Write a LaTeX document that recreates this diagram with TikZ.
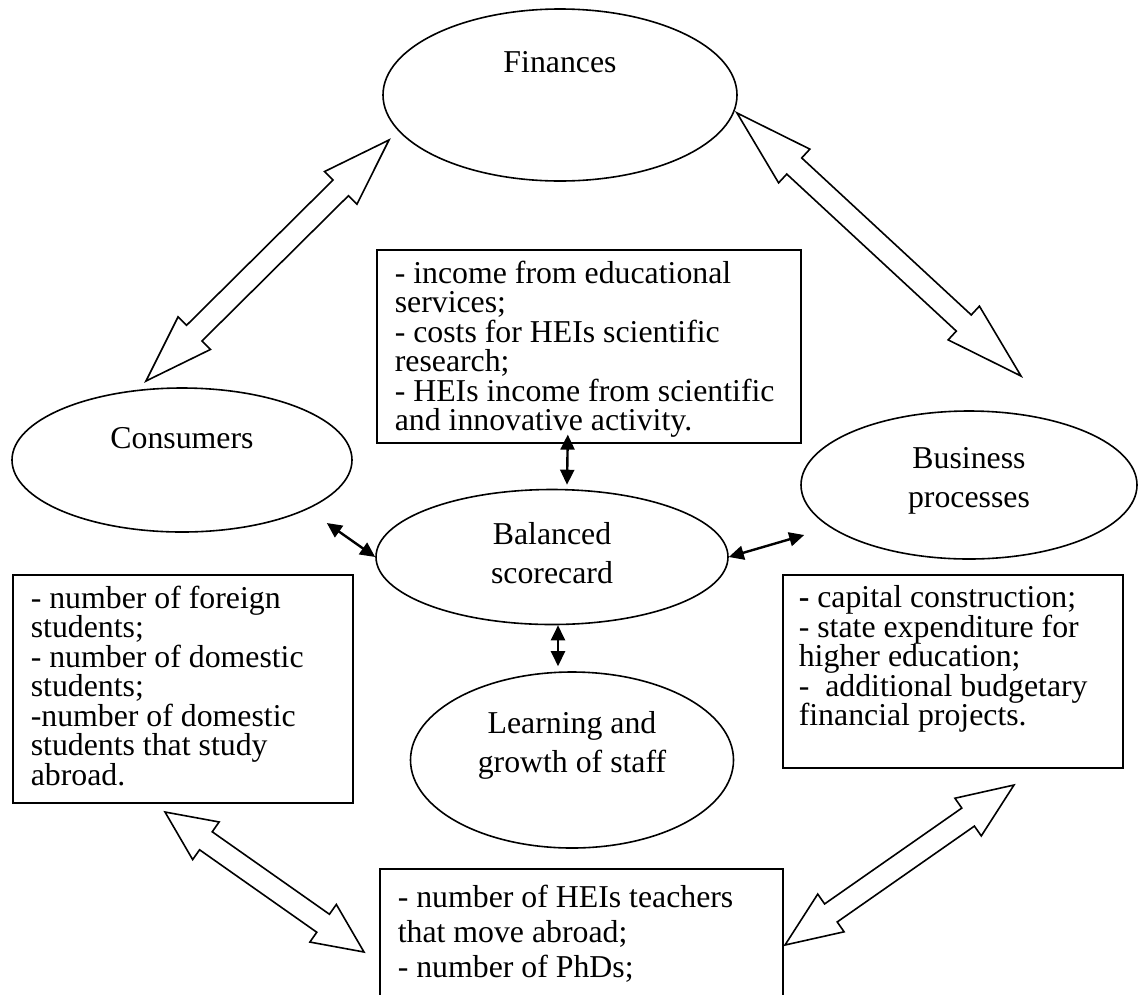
\documentclass[tikz,border=0pt]{standalone}
\usepackage{fontspec}
\setmainfont{Liberation Serif}
\usetikzlibrary{arrows.meta, calc, shapes.geometric}
\setlength{\lineskiplimit}{-20pt}

% hollow double arrow between two points, #1 = head length
\newcommand{\twinArrow}[3][62pt]{%
    \coordinate (tw1) at ($(#2)!#1!(#3)$);
    \coordinate (tw2) at ($(#3)!#1!(#2)$);
    \draw[twin] (#2) -- ($(tw1)!23pt!90:(#3)$) -- ($(tw1)!11pt!90:(#3)$)
        -- ($(tw2)!11pt!-90:(#2)$) -- ($(tw2)!23pt!-90:(#2)$) -- (#3)
        -- ($(tw2)!23pt!90:(#2)$) -- ($(tw2)!11pt!90:(#2)$)
        -- ($(tw1)!11pt!-90:(#3)$) -- ($(tw1)!23pt!-90:(#3)$) -- cycle;
}
% top aligned text block: height, width, text
\newcommand{\boxText}[3]{\parbox[t][#1][t]{#2}{\raggedright #3}}

\begin{document}
\begin{tikzpicture}[x=1pt, y=-1pt,
    oval/.style={draw, ellipse, line width=1.6pt, inner sep=0pt},
    ovaltext/.style={align=center, font=\fontsize{31.8}{39}\selectfont},
    infobox/.style={draw, line width=1.6pt, anchor=north west, inner xsep=18pt, inner ysep=11pt,
        font=\fontsize{31.8}{29.5}\selectfont},
    twin/.style={line width=1.6pt, fill=white, line join=miter},
    dart/.style={{Triangle[length=15pt,width=14pt]}-{Triangle[length=15pt,width=14pt]}, line width=2.4pt}]

    \useasboundingbox (0,0) rectangle (1139,994);
    \clip (0,0) rectangle (1139,994);

    % --- 1. PERSPECTIVES ---
    \node[oval, minimum width=354pt, minimum height=172pt] (fin) at (560,95) {};
    \node[ovaltext, anchor=base] (finT) at ([yshift=23pt]fin.center) {Finances};

    \node[oval, minimum width=340pt, minimum height=144pt] (con) at (182,460) {};
    \node[ovaltext, anchor=base] (conT) at ([yshift=12pt]con.center) {Consumers};

    \node[oval, minimum width=336pt, minimum height=148pt] (bp) at (969,485) {};
    \node[ovaltext] (bpT) at ([yshift=4pt]bp.center) {Business\\processes};

    \node[oval, minimum width=352pt, minimum height=135pt] (bsc) at (552,557) {};
    \node[ovaltext] (bscT) at ([yshift=4pt]bsc.center) {Balanced\\scorecard};

    \node[oval, minimum width=323pt, minimum height=176pt] (lg) at (572,760) {};
    \node[ovaltext] (lgT) at ([yshift=15pt]lg.center) {Learning and\\growth of staff};

    % --- 2. INDICATORS ---
    \node[infobox] (inc) at (376,249) {\boxText{171pt}{388pt}{%
        - income from educational\\
        services;\\
        - costs for HEIs scientific\\
        research;\\
        - HEIs income from scientific\\
        and innovative activity.}};

    \node[infobox] (stu) at (12,574) {\boxText{206pt}{304pt}{%
        - number of foreign\\
        students;\\
        - number of domestic\\
        students;\\
        -number of domestic\\
        students that study\\
        abroad.}};

    \node[infobox, inner xsep=16pt] (cap) at (782,574) {\boxText{171pt}{308pt}{%
        \textbf{-} capital construction;\\
        - state expenditure for\\
        higher education;\\
        -~ additional budgetary\\
        financial projects.}};

    \node[infobox, inner ysep=16pt, font=\fontsize{31.8}{35}\selectfont] (hei) at (379,868) {\boxText{150pt}{367pt}{%
        - number of HEIs teachers\\
        that move abroad;\\
        - number of PhDs;}};

    % --- 3. LINKS ---
    \coordinate (fcA) at (389,140);
    \coordinate (fcB) at (146,381);
    \coordinate (fbA) at (737,113);
    \coordinate (fbB) at (1021,376);
    \coordinate (shA) at (165,812);
    \coordinate (shB) at (364,952);
    \coordinate (hcA) at (785,945);
    \coordinate (hcB) at (1014,785);

    \twinArrow[68pt]{fcA}{fcB}
    \twinArrow[78pt]{fbA}{fbB}
    \twinArrow[50pt]{shA}{shB}
    \twinArrow[56pt]{hcA}{hcB}

    \draw[dart] ([xshift=-21pt, yshift=9pt]inc.south) -- ([xshift=15pt, yshift=4pt]bsc.north);
    \draw[dart] ([xshift=6pt]bsc.south) -- ([xshift=-14pt, yshift=5pt]lg.north);
    \draw[dart] ([xshift=-26pt, yshift=-63pt]con.east) -- (bsc.west);
    \draw[dart] (bsc.east) -- ([xshift=4pt, yshift=-50pt]bp.west);

\end{tikzpicture}
\end{document}
